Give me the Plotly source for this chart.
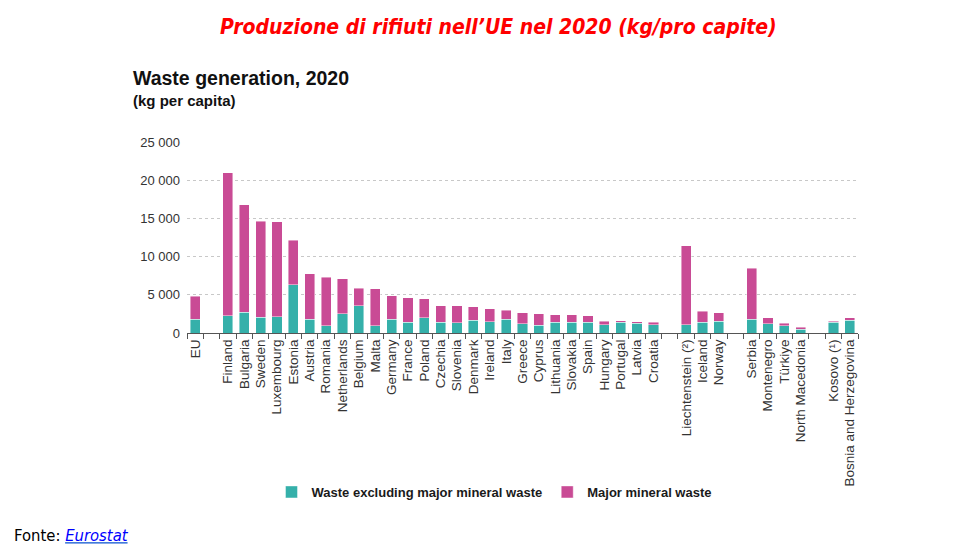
import plotly.graph_objects as go

OFF = 8                       # page body margin of the html page
W, H = 956, 541               # figure size
L, T = 179, 134               # plot area top-left (figure px)
PW, PH = 671, 191             # plot area size
R, B = W - L - PW, H - T - PH

# ---- data (kg per capita, 2020) ----
eu_names = ["EU"]
eu_excl = [1800]
eu_major = [3000]

member_names = ["Finland", "Bulgaria", "Sweden", "Luxembourg", "Estonia", "Austria",
                "Romania", "Netherlands", "Belgium", "Malta", "Germany", "France",
                "Poland", "Czechia", "Slovenia", "Denmark", "Ireland", "Italy",
                "Greece", "Cyprus", "Lithuania", "Slovakia", "Spain", "Hungary",
                "Portugal", "Latvia", "Croatia"]
member_excl = [2250, 2700, 2050, 2130, 6300, 1830, 920, 2550, 3580, 920, 1790, 1440,
               1970, 1440, 1310, 1700, 1500, 1830, 1180, 1000, 1440, 1440, 1440, 1050,
               1390, 1300, 1050]
member_major = [18750, 14100, 12600, 12440, 5850, 5910, 6380, 4580, 2270, 4850, 3070, 3160,
                2490, 2120, 2250, 1750, 1690, 1140, 1480, 1490, 920, 920, 790, 520,
                220, 180, 390]

efta_names = ["Liechtenstein (\u00b2)", "Iceland", "Norway"]
efta_excl = [1090, 1440, 1520]
efta_major = [10360, 1440, 1100]

cand_names = ["Serbia", "Montenegro", "Türkiye", "North Macedonia"]
cand_excl = [1790, 1180, 920, 470]
cand_major = [6680, 820, 340, 270]

pot_names = ["Kosovo (\u00b9)", "Bosnia and Herzegovina"]
pot_excl = [1440, 1650]
pot_major = [130, 320]

y_ticks = [0, 5000, 10000, 15000, 20000, 25000]

# ---- assemble with empty separator slots ----
groups = [(eu_names, eu_excl, eu_major), (member_names, member_excl, member_major),
          (efta_names, efta_excl, efta_major), (cand_names, cand_excl, cand_major),
          (pot_names, pot_excl, pot_major)]
cats, excl, major = [], [], []
for i, (n, e, m) in enumerate(groups):
    if i > 0:
        cats.append(" " * i)
        excl.append(None)
        major.append(None)
    cats += n
    excl += e
    major += m

TEAL = "#35b0aa"
MAGENTA = "#c94b95"

fig = go.Figure()
fig.add_bar(x=cats, y=excl, name="Waste excluding major mineral waste",
            marker=dict(color=TEAL, line=dict(color="rgba(255,255,255,0.55)", width=0.8)))
fig.add_bar(x=cats, y=major, name="Major mineral waste",
            marker=dict(color=MAGENTA, line=dict(color="rgba(255,255,255,0.55)", width=0.8)))

def px(x):   # screen x -> paper
    return (x - OFF - L) / PW
def py(y):   # screen y -> paper
    return (T + PH - (y - OFF)) / PH

fig.update_layout(
    width=W, height=H, margin=dict(l=L, r=R, t=T, b=B, autoexpand=False),
    barmode="stack", bargap=0.38,
    plot_bgcolor="white", paper_bgcolor="white",
    separators=". ",
    font=dict(family="Liberation Sans, Arial, sans-serif", color="#333333", size=13),
    showlegend=True,
    legend=dict(orientation="h", x=px(494), xanchor="center", y=py(492), yanchor="middle",
                font=dict(size=13, color="#1a1a1a", family="Liberation Sans, Arial", weight="bold"),
                itemwidth=30, traceorder="normal", bgcolor="rgba(0,0,0,0)"),
    xaxis=dict(type="category", categoryorder="array", categoryarray=cats,
               range=[-0.5, len(cats) - 0.5], tickangle=-90, tickson="boundaries",
               ticks="outside", ticklen=5, tickcolor="#555555", showline=True,
               linecolor="#555555", linewidth=1, showgrid=False,
               tickfont=dict(size=13.5, color="#333333")),
    yaxis=dict(range=[0, 25000], tickvals=y_ticks, tickformat=",d", showgrid=True,
               gridcolor="#c8c8c8", griddash="dot", gridwidth=1, zeroline=False,
               showline=False, tickfont=dict(size=13, color="#333333"), ticklabelstandoff=6),
    annotations=[
        dict(text="<b><i>Produzione di rifiuti nell\u2019UE nel 2020 (kg/pro capite)</i></b>",
             x=px(498), y=py(27), xref="paper", yref="paper", xanchor="center", yanchor="middle",
             showarrow=False, font=dict(family="DejaVu Sans Condensed, DejaVu Sans", size=21, color="#ff0000")),
        dict(text="<b>Waste generation, 2020</b>", x=px(131), y=py(78), xref="paper", yref="paper",
             xanchor="left", yanchor="middle", showarrow=False,
             font=dict(size=19.5, color="#111111")),
        dict(text="<b>(kg per capita)</b>", x=px(131), y=py(100), xref="paper", yref="paper",
             xanchor="left", yanchor="middle", showarrow=False,
             font=dict(size=15, color="#111111")),
        dict(text="Fonte: <a href='https://ec.europa.eu/eurostat'><i><u><span style='color:#0000ff'>Eurostat</span></u></i></a>",
             x=px(12), y=py(535), xref="paper", yref="paper", xanchor="left", yanchor="middle",
             showarrow=False, font=dict(family="DejaVu Sans Condensed, DejaVu Sans", size=16.5, color="#000000")),
    ],
)

fig.write_html("out.html")
